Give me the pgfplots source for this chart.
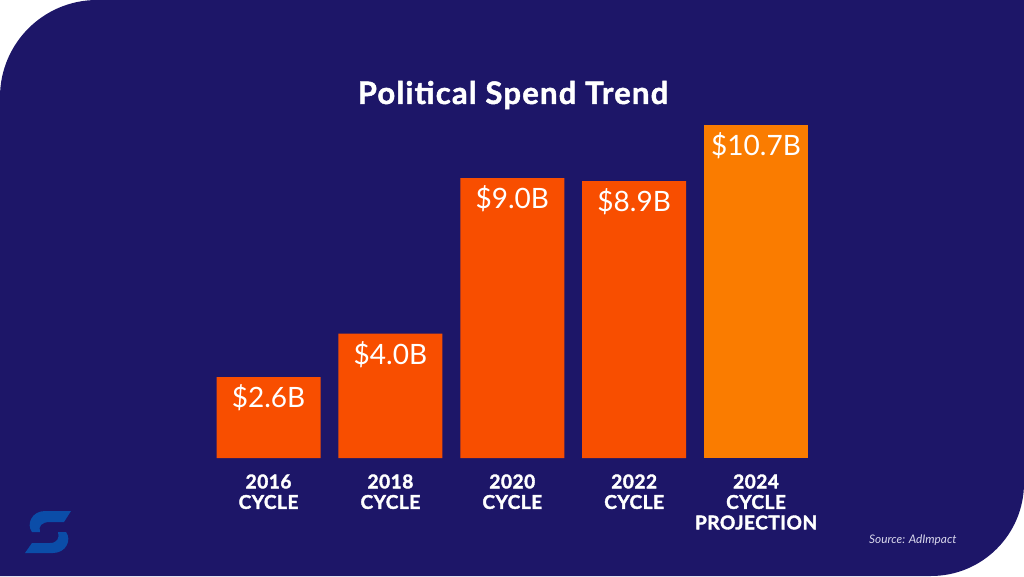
\documentclass[border=0pt]{standalone}
\usepackage{fontspec}
\setmainfont{Lato}
\newfontfamily\latoheavy{Lato}[BoldFeatures={FakeBold=2,LetterSpace=3}]
\newfontfamily\latotitle{Lato}[BoldFeatures={FakeBold=1.5,LetterSpace=4}]
\usepackage{pgfplots}
\pgfplotsset{compat=1.18}
\definecolor{navy}{HTML}{1D1668}
\definecolor{barred}{HTML}{F84E00}
\definecolor{barorange}{HTML}{FA7C00}
\definecolor{logoblue}{HTML}{0B4DA8}
\definecolor{srcgrey}{HTML}{D9D8EC}

\begin{document}
\begin{tikzpicture}[x=1pt,y=1pt]
\useasboundingbox (0,0) rectangle (1024,576);
\fill[white] (0,0) rectangle (1024,576);
% navy panel, rounded top-left and bottom-right
\fill[navy] (0,0) -- (0,479) arc[start angle=180,end angle=90,radius=97]
  -- (1024,576) -- (1024,93) arc[start angle=0,end angle=-90,radius=93] -- cycle;
% logo
\fill[logoblue] (71,65) -- (45,65) .. controls (32,65) and (26,52) .. (32,44) -- (40,44)
  .. controls (38,50) and (42,54) .. (50,54) -- (64,54) -- cycle;
\fill[logoblue] (25,23) -- (53,23) .. controls (66,23) and (72,36) .. (66,44) -- (58,44)
  .. controls (60,38) and (57,33) .. (50,33) -- (32,33) -- cycle;

\node[white, font=\latotitle\bfseries\fontsize{31}{36}\selectfont, anchor=base] at (513,472) {Political Spend Trend};
\node[srcgrey, font=\itshape\fontsize{11.8}{14}\selectfont, anchor=base west, inner sep=0pt] at (869,33) {Source: AdImpact};

\begin{axis}[
    at={(207.6pt,118pt)}, anchor=south west,
    scale only axis,
    width=609.4pt, height=342.1pt,
    ybar, bar width=104pt, bar shift=0pt,
    xmin=-0.5, xmax=4.5, ymin=0, ymax=11,
    enlargelimits=false, clip=false,
    axis line style={draw=none},
    tick style={draw=none},
    ytick=\empty,
    xtick={0,1,2,3,4},
    xticklabels={{2016\\CYCLE},{2018\\CYCLE},{2020\\CYCLE},{2022\\CYCLE},{2024\\CYCLE\\PROJECTION}},
    xticklabel style={text=white, font=\latoheavy\bfseries\fontsize{19}{20.5}\selectfont,
        align=center, anchor=north, inner sep=0pt, yshift=-12pt},
    /pgf/number format/assume math mode=true,
    nodes near coords={\$\pgfmathprintnumber[fixed,fixed zerofill,precision=1]{\pgfplotspointmeta}B},
    every node near coord/.append style={text=white, font=\fontsize{28}{34}\selectfont,
        anchor=base, yshift=-30.5pt},
]
\addplot[fill=barred, draw=none] coordinates {(0,2.6) (1,4.0) (2,9.0) (3,8.9)};
\addplot[fill=barorange, draw=none] coordinates {(4,10.7)};
\end{axis}
\end{tikzpicture}
\end{document}
